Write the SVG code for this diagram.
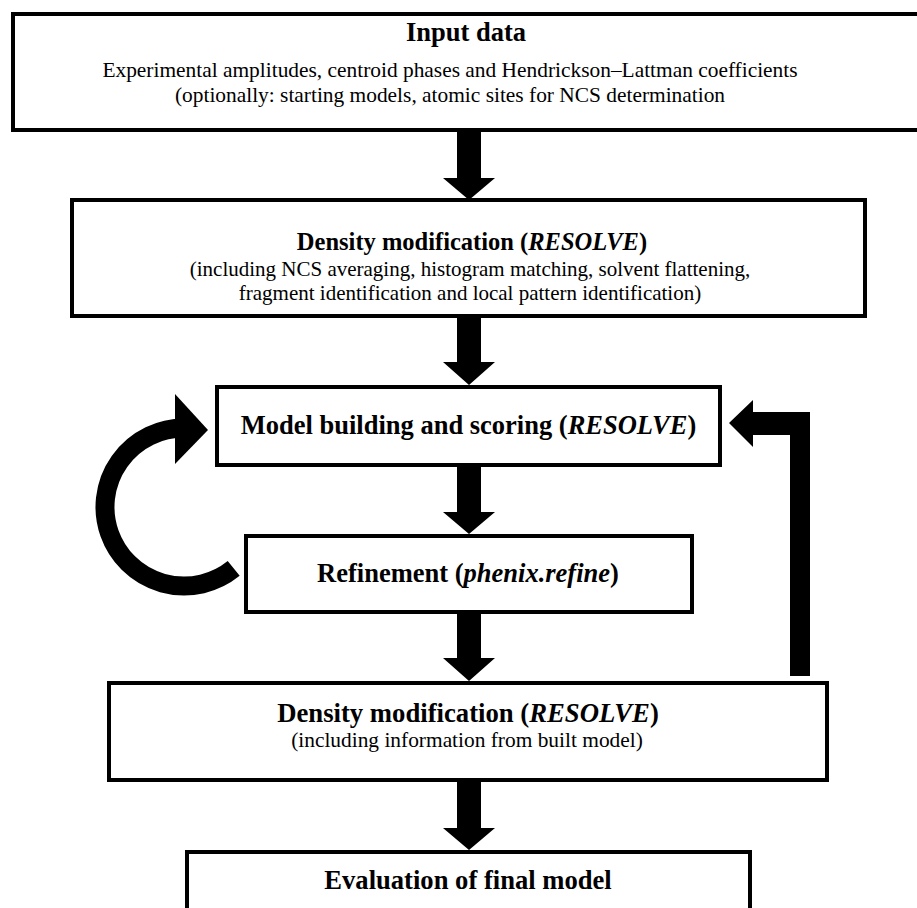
<svg xmlns="http://www.w3.org/2000/svg" width="917" height="908" viewBox="0 0 917 908">
<style>
.box{fill:#fff;stroke:#000;stroke-width:4}
.t{font-family:"Liberation Serif","Times New Roman",serif;font-weight:bold;text-anchor:middle;fill:#000}
.b{font-family:"Liberation Serif","Times New Roman",serif;text-anchor:middle;fill:#000}
.arr{fill:#000}
</style>
<rect width="917" height="908" fill="#fff"/>
<g id="input">
<rect class="box" x="13" y="14" width="920" height="116"/>
<text class="t" x="466" y="41" font-size="26.5">Input data</text>
<text class="b" x="450" y="77" font-size="21.4">Experimental amplitudes, centroid phases and Hendrickson–Lattman coefficients</text>
<text class="b" x="450" y="102" font-size="21.4">(optionally: starting models, atomic sites for NCS determination</text>
</g>
<g id="dm1">
<rect class="box" x="72" y="200" width="793" height="116"/>
<text class="t" x="472" y="250" font-size="24.5">Density modification (<tspan font-style="italic">RESOLVE</tspan>)</text>
<text class="b" x="470" y="276" font-size="21">(including NCS averaging, histogram matching, solvent flattening,</text>
<text class="b" x="470" y="300" font-size="21">fragment identification and local pattern identification)</text>
</g>
<g id="build">
<rect class="box" x="217" y="387" width="503" height="78"/>
<text class="t" x="468.5" y="434" font-size="26.5">Model building and scoring (<tspan font-style="italic">RESOLVE</tspan>)</text>
</g>
<g id="refine">
<rect class="box" x="246" y="536" width="446" height="76"/>
<text class="t" x="468" y="582" font-size="26.5">Refinement (<tspan font-style="italic">phenix.refine</tspan>)</text>
</g>
<g id="dm2">
<rect class="box" x="109" y="683" width="718" height="97"/>
<text class="t" x="468" y="722" font-size="26.7">Density modification (<tspan font-style="italic">RESOLVE</tspan>)</text>
<text class="b" x="467" y="747" font-size="21.4">(including information from built model)</text>
</g>
<g id="eval">
<rect class="box" x="187" y="852" width="563" height="80"/>
<text class="t" x="468" y="889" font-size="26.6">Evaluation of final model</text>
</g>
<g id="connectors">
<polygon class="arr" points="457,132 481,132 481,178 495,178 469,200 443,178 457,178"/>
<polygon class="arr" points="457,318 481,318 481,362 495,362 469,385 443,362 457,362"/>
<polygon class="arr" points="457,467 481,467 481,512 495,512 469,534 443,512 457,512"/>
<polygon class="arr" points="457,614 481,614 481,658 495,658 469,681 443,658 457,658"/>
<polygon class="arr" points="457,782 481,782 481,828 495,828 469,850 443,828 457,828"/>
<polygon class="arr" points="810,676 790,676 790,435 753,435 753,447 729,423 753,400 753,412 810,412"/>
<path d="M233.7,568.4 A79,79 0 1 1 184,428" fill="none" stroke="#000" stroke-width="19"/>
<polygon class="arr" points="175,394 208,430 175,464"/>
</g>
</svg>
